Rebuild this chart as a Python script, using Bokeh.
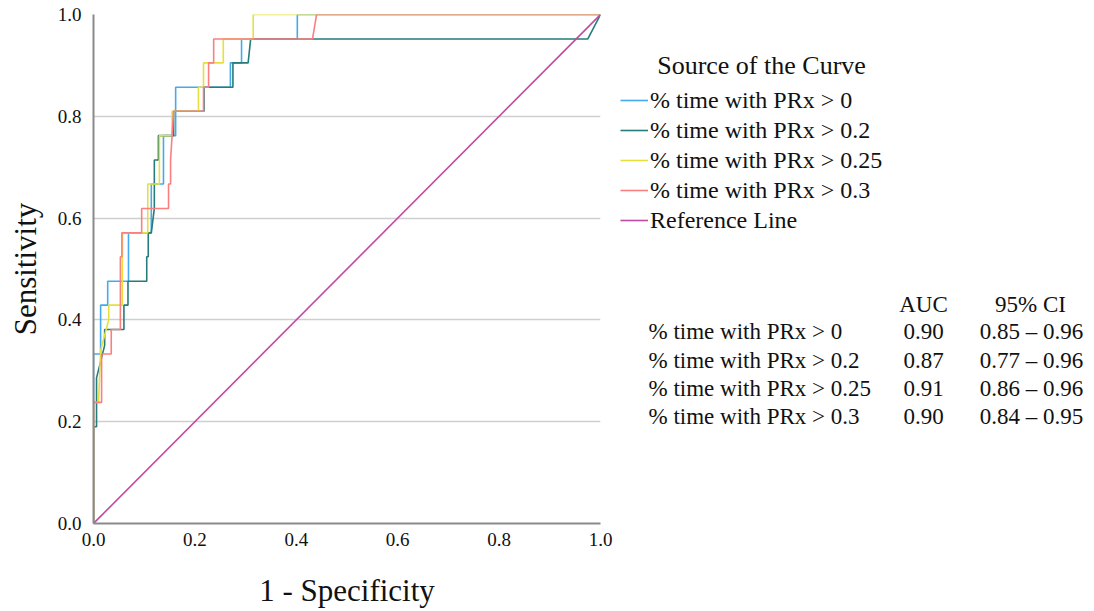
from bokeh.plotting import figure
from bokeh.layouts import row
from bokeh.models import Range1d, Label, Legend, LegendItem, NumeralTickFormatter, FixedTicker
from bokeh.embed import file_html
from bokeh.resources import INLINE

# ROC curve vertices (1 - specificity, sensitivity) for each predictor
series_names = ["% time with PRx > 0", "% time with PRx > 0.2",
                "% time with PRx > 0.25", "% time with PRx > 0.3"]

fpr_0 = [0, 0, 0.014, 0.014, 0.028, 0.028, 0.069, 0.069, 0.114, 0.114, 0.138, 0.138,
         0.162, 0.162, 0.27, 0.27, 0.292, 0.292, 0.402, 0.402, 1.0]
tpr_0 = [0, 0.333, 0.333, 0.429, 0.429, 0.476, 0.476, 0.571, 0.571, 0.667, 0.667, 0.762,
         0.762, 0.857, 0.857, 0.905, 0.905, 0.952, 0.952, 1.0, 1.0]

fpr_02 = [0, 0, 0.006, 0.006, 0.022, 0.022, 0.06, 0.06, 0.068, 0.068, 0.105, 0.105,
          0.108, 0.108, 0.114, 0.12, 0.12, 0.128, 0.128, 0.158, 0.158, 0.218, 0.218,
          0.275, 0.275, 0.305, 0.31, 0.975, 1.0]
tpr_02 = [0, 0.19, 0.19, 0.286, 0.35, 0.381, 0.381, 0.429, 0.429, 0.476, 0.476, 0.524,
          0.524, 0.571, 0.571, 0.619, 0.714, 0.714, 0.762, 0.762, 0.81, 0.81, 0.857,
          0.857, 0.905, 0.905, 0.952, 0.952, 1.0]

fpr_025 = [0, 0, 0.01, 0.014, 0.03, 0.03, 0.057, 0.057, 0.107, 0.107, 0.13, 0.13,
           0.155, 0.155, 0.207, 0.207, 0.217, 0.217, 0.256, 0.256, 0.315, 0.315, 1.0]
tpr_025 = [0, 0.238, 0.238, 0.34, 0.4, 0.429, 0.429, 0.571, 0.571, 0.667, 0.667, 0.762,
           0.762, 0.81, 0.81, 0.857, 0.857, 0.905, 0.905, 0.952, 0.952, 1.0, 1.0]

fpr_03 = [0, 0, 0.016, 0.016, 0.035, 0.035, 0.053, 0.053, 0.056, 0.056, 0.095, 0.095,
          0.148, 0.148, 0.152, 0.152, 0.155, 0.158, 0.217, 0.217, 0.227, 0.227, 0.237,
          0.237, 0.432, 0.44, 1.0]
tpr_03 = [0, 0.238, 0.238, 0.333, 0.333, 0.381, 0.381, 0.524, 0.524, 0.571, 0.571, 0.619,
          0.619, 0.667, 0.667, 0.714, 0.762, 0.81, 0.81, 0.857, 0.857, 0.905, 0.905,
          0.952, 0.952, 1.0, 1.0]

ref_x = [0, 1]
ref_y = [0, 1]

# Summary table
auc = ["0.90", "0.87", "0.91", "0.90"]
ci_low = ["0.85", "0.77", "0.86", "0.84"]
ci_high = ["0.96", "0.96", "0.96", "0.95"]

ticks = [0.0, 0.2, 0.4, 0.6, 0.8, 1.0]

colors = ["#45a9ee", "#277b7b", "#e6df3c", "#fb7f7f"]
ref_color = "#c04aa2"
FONT = "Liberation Serif"
INK = "#111111"

# ---- main ROC plot ----
p = figure(width=616, height=611, x_range=Range1d(0, 1), y_range=Range1d(0, 1),
           output_backend="svg", toolbar_location=None,
           min_border_left=93, min_border_right=16, min_border_top=14, min_border_bottom=88)
p.outline_line_color = None
p.background_fill_color = "white"
p.border_fill_color = "white"

curves = [(fpr_0, tpr_0), (fpr_02, tpr_02), (fpr_025, tpr_025), (fpr_03, tpr_03)]
for (fx, ty), c in zip(curves, colors):
    p.line(fx, ty, line_color=c, line_width=1.6)
p.line(ref_x, ref_y, line_color=ref_color, line_width=1.6)

for ax in (p.xaxis, p.yaxis):
    ax.ticker = FixedTicker(ticks=ticks)
    ax.formatter = NumeralTickFormatter(format="0.0")
    ax.major_tick_line_color = None
    ax.minor_tick_line_color = None
    ax.axis_line_color = "#8a8a8a"
    ax.axis_line_width = 2
    ax.major_label_text_font = FONT
    ax.major_label_text_font_size = "19px"
    ax.major_label_text_color = INK
    ax.axis_label_text_font = FONT
    ax.axis_label_text_font_size = "31px"
    ax.axis_label_text_font_style = "normal"
    ax.axis_label_text_color = INK

p.xaxis.axis_label = "1 - Specificity"
p.yaxis.axis_label = "Sensitivity"
p.xaxis.major_label_standoff = 3
p.yaxis.major_label_standoff = 6
p.xaxis.axis_label_standoff = 24
p.yaxis.axis_label_standoff = 12

p.xgrid.visible = False
p.ygrid.ticker = FixedTicker(ticks=ticks)
p.ygrid.grid_line_color = "#cfcfcf"
p.ygrid.grid_line_width = 1.5

# ---- side panel: legend and AUC table, positioned in page pixels ----
# the row aligns this frame with the ROC frame (top 14, bottom 523)
side = figure(width=478, height=611, x_range=Range1d(616, 1094), y_range=Range1d(523, 14),
              output_backend="svg", toolbar_location=None,
              min_border_left=0, min_border_right=0, min_border_top=14, min_border_bottom=88)
side.axis.visible = False
side.grid.visible = False
side.outline_line_color = None
side.background_fill_color = "white"
side.border_fill_color = "white"

legend_colors = colors + [ref_color]
legend_names = series_names + ["Reference Line"]
items = []
for n, c in zip(legend_names, legend_colors):
    # placeholder renderer that carries the line style for the legend swatch
    r = side.line(x=[float("nan")], y=[float("nan")], line_color=c, line_width=1.6)
    items.append(LegendItem(label=n, renderers=[r]))
legend = Legend(items=items, location=(4, 289))
legend.border_line_color = None
legend.background_fill_alpha = 0
legend.padding = 0
legend.margin = 0
legend.spacing = 2
legend.label_height = 28
legend.glyph_height = 28
legend.glyph_width = 28
legend.label_standoff = 2
legend.label_text_font = FONT
legend.label_text_font_size = "24px"
legend.label_text_color = INK
side.add_layout(legend)

side.add_layout(Label(x=761, y=65, text="Source of the Curve", text_align="center",
                      text_baseline="middle", text_font=FONT, text_font_size="26px",
                      text_color=INK))

TABLE_SIZE = "23px"
side.add_layout(Label(x=923, y=304, text="AUC", text_align="center", text_baseline="middle",
                      text_font=FONT, text_font_size=TABLE_SIZE, text_color=INK))
side.add_layout(Label(x=1030, y=304, text="95% CI", text_align="center", text_baseline="middle",
                      text_font=FONT, text_font_size=TABLE_SIZE, text_color=INK))
row_y = [331, 360, 388, 416]
for name, a, lo, hi, yy in zip(series_names, auc, ci_low, ci_high, row_y):
    side.add_layout(Label(x=648, y=yy, text=name, text_align="left", text_baseline="middle",
                          text_font=FONT, text_font_size=TABLE_SIZE, text_color=INK))
    side.add_layout(Label(x=923, y=yy, text=a, text_align="center", text_baseline="middle",
                          text_font=FONT, text_font_size=TABLE_SIZE, text_color=INK))
    side.add_layout(Label(x=1031, y=yy, text=f"{lo} \u2013 {hi}", text_align="center",
                          text_baseline="middle", text_font=FONT, text_font_size=TABLE_SIZE,
                          text_color=INK))

layout = row(p, side, spacing=0)
open("out.html", "w").write(file_html(layout, INLINE))
